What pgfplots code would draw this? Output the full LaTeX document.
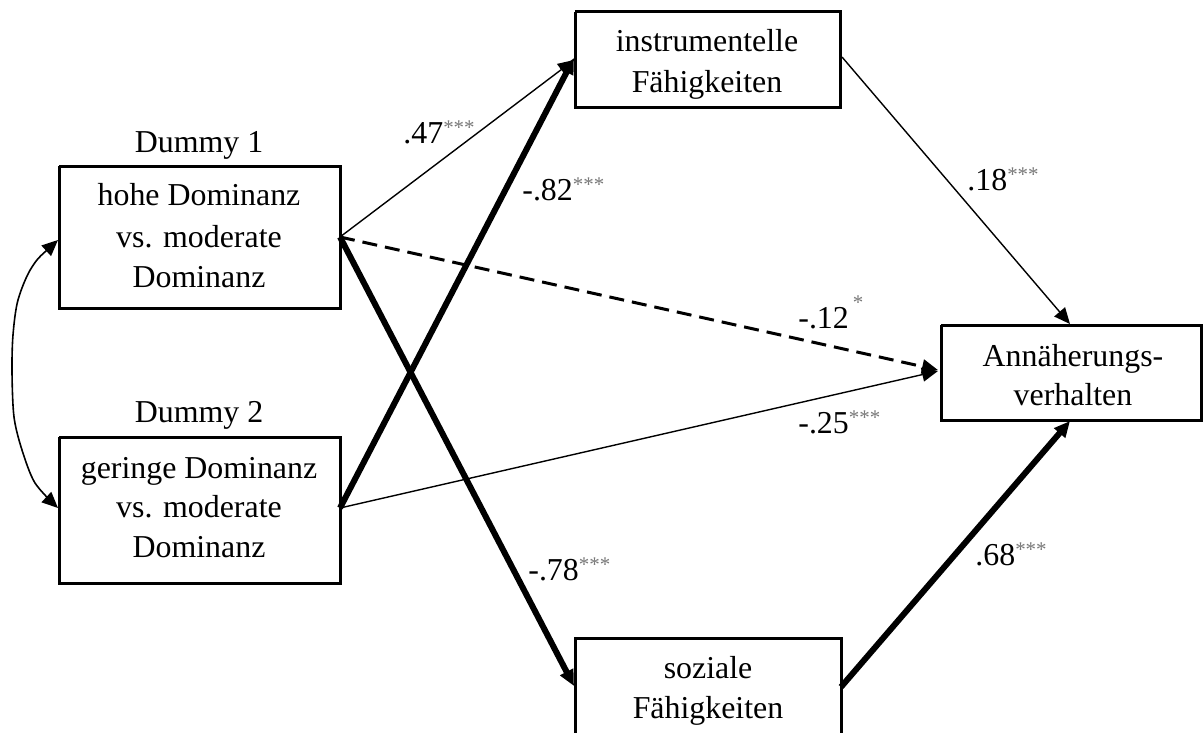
\documentclass[border=0pt]{standalone}
\usepackage{fontspec}
\setmainfont{Liberation Serif}
\usepackage{pgfplots}
\pgfplotsset{compat=1.18}
\usetikzlibrary{arrows.meta}
\definecolor{stargray}{RGB}{120,120,120}
\newcommand{\st}[2][4.5bp]{\raisebox{#1}{\fontsize{10.5}{10}\selectfont\color{stargray}#2}}
\tikzset{
  txt/.style={font=\fontsize{16}{20}\selectfont,inner sep=0pt,anchor=base},
  lab/.style={font=\fontsize{16}{20}\selectfont,inner sep=0pt,anchor=base west},
  tip/.style={-{Triangle[length=8bp 0 0,width=7bp 0 0]}},
  boxline/.style={black,line width=1.5bp,mark=none},
}
\begin{document}
\begin{tikzpicture}
\begin{axis}[
  width=602bp, height=366.5bp, scale only axis, hide axis,
  xmin=0, xmax=1204, ymin=0, ymax=733, y dir=reverse, clip=true,
]
% frame the full figure area
\addplot[draw=none,mark=none] coordinates {(0,0) (1204,733)};
% paths (pixel coordinates of the figure)
\addplot[black,line width=0.7bp,tip,mark=none] coordinates {(340,237) (574,60)};
\addplot[black,line width=3bp,tip,mark=none] coordinates {(340,508) (574,58)};
\addplot[black,line width=3bp,tip,mark=none] coordinates {(340,237) (574,686)};
\addplot[black,line width=1.5bp,dash pattern=on 7.5bp off 4bp,tip,mark=none] coordinates {(340,237) (938,370)};
\addplot[black,line width=0.7bp,tip,mark=none] coordinates {(340,508) (938,371)};
\addplot[black,line width=0.7bp,tip,mark=none] coordinates {(842,57) (1070,324)};
\addplot[black,line width=3bp,tip,mark=none] coordinates {(841,687) (1070,421)};
% correlation between the dummies
\addplot[black,line width=0.8bp,smooth,mark=none,
  {Triangle[length=8bp 0 0,width=7bp 0 0]}-{Triangle[length=8bp 0 0,width=7bp 0 0]}]
  coordinates {(58,240) (32,267) (18,300) (13,335) (12,372) (14,417) (22,450) (35,483) (58,508)};
% boxes
\addplot[boxline] coordinates {(575,12) (840,12) (840,108) (575,108) (575,12)};
\addplot[boxline] coordinates {(59,166) (340,166) (340,308) (59,308) (59,166)};
\addplot[boxline] coordinates {(59,437) (340,437) (340,583) (59,583) (59,437)};
\addplot[boxline] coordinates {(941,325) (1201,325) (1201,420) (941,420) (941,325)};
\addplot[boxline] coordinates {(575,760) (575,638) (841,638) (841,760)};
% box texts
\node[txt] at (axis cs:199,152) {Dummy 1};
\node[txt] at (axis cs:199,205) {hohe Dominanz};
\node[txt] at (axis cs:199,247) {vs. moderate};
\node[txt] at (axis cs:199,287) {Dominanz};
\node[txt] at (axis cs:199,422) {Dummy 2};
\node[txt] at (axis cs:199,478) {geringe Dominanz};
\node[txt] at (axis cs:199,517) {vs. moderate};
\node[txt] at (axis cs:199,557) {Dominanz};
\node[txt] at (axis cs:707,52) {instrumentelle};
\node[txt] at (axis cs:707,92) {Fähigkeiten};
\node[txt] at (axis cs:708,678) {soziale};
\node[txt] at (axis cs:708,718) {Fähigkeiten};
\node[txt] at (axis cs:1073,366) {Annäherungs-};
\node[txt] at (axis cs:1073,405) {verhalten};
% coefficients
\node[lab] at (axis cs:403,143) {.47\st{***}};
\node[lab] at (axis cs:522,200) {-.82\st{***}};
\node[lab] at (axis cs:967,190) {.18\st{***}};
\node[lab] at (axis cs:798,328) {-.12\hspace{2bp}\st[9.5bp]{*}};
\node[lab] at (axis cs:798,433) {-.25\st{***}};
\node[lab] at (axis cs:528,580) {-.78\st{***}};
\node[lab] at (axis cs:975,565) {.68\st{***}};
\end{axis}
\end{tikzpicture}
\end{document}
